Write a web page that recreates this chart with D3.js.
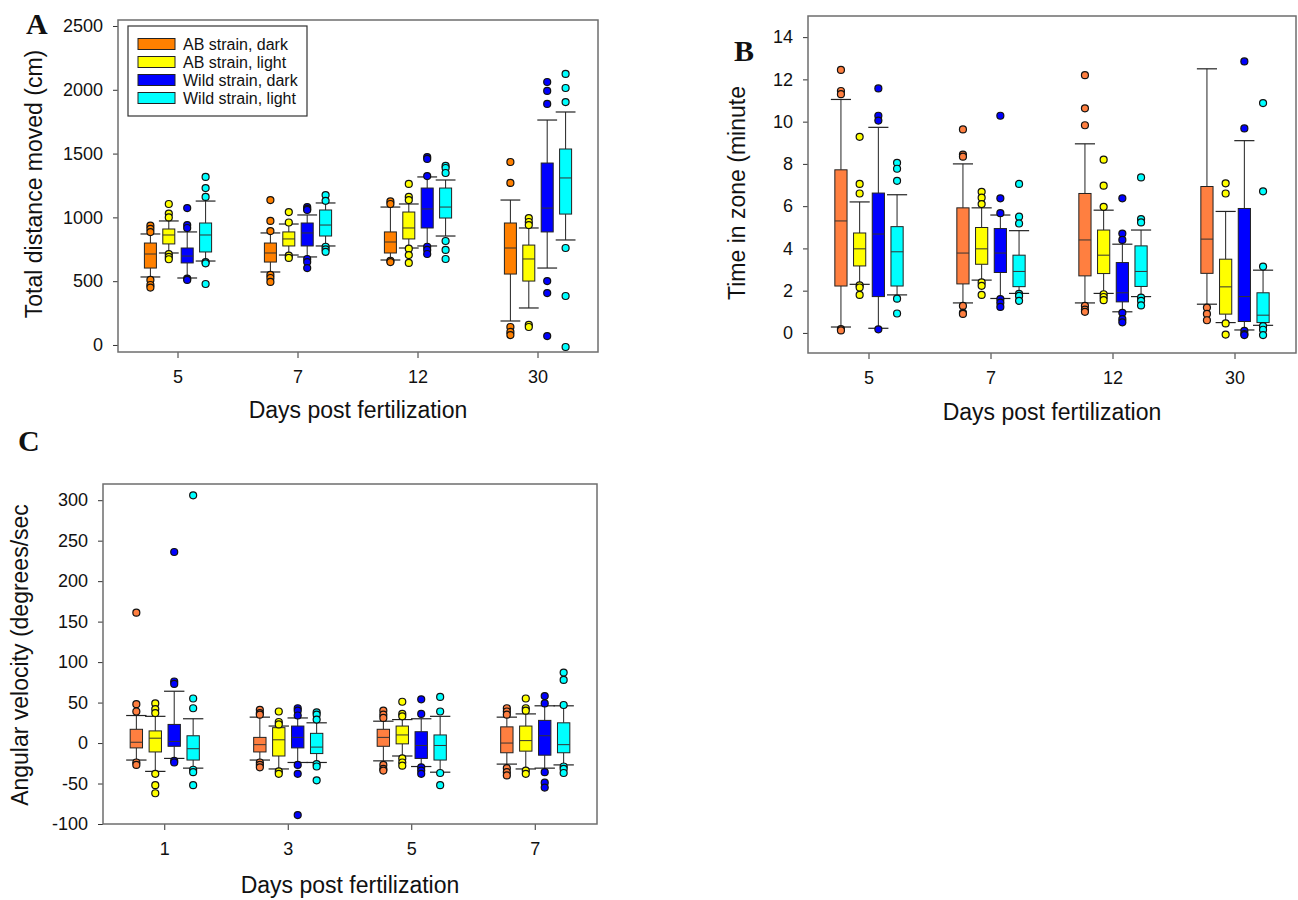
<!DOCTYPE html>
<html lang="en">
<head>
<meta charset="utf-8">
<title>Zebrafish locomotion boxplots</title>
<script src="https://d3js.org/d3.v7.min.js"></script>
<style>
  body { margin: 0; background: #fff; }
  svg text { font-family: "Liberation Sans", Arial, sans-serif; fill: #111; }
  .tick text { font-size: 18px; }
  .axis-title { font-size: 23px; }
  .legend-text { font-size: 16px; }
  .panel-letter { font-family: "Liberation Serif", "Times New Roman", serif !important; font-weight: bold; font-size: 30px; }
</style>
</head>
<body>
<svg id="chart" width="1298" height="900"></svg>
<script>
// groups shown in every panel
const groups = ["AB strain, dark", "AB strain, light", "Wild strain, dark", "Wild strain, light"];
const colorsA = ["#ff8000", "#ffff00", "#0000ff", "#00ffff"];
const colorsBC = ["#ff7f40", "#ffff00", "#0000ff", "#00ffff"];

const daysAB = ["5", "7", "12", "30"];
const daysC = ["1", "3", "5", "7"];

const ticksA = [0, 500, 1000, 1500, 2000, 2500];
const ticksB = [0, 2, 4, 6, 8, 10, 12, 14];
const ticksC = [-100, -50, 0, 50, 100, 150, 200, 250, 300];

// [lower whisker, q1, median, q3, upper whisker] per day, per group
const distanceBoxes = [
  [[533, 603, 713, 799, 870], [721, 792, 862, 909, 972], [525, 643, 697, 760, 886], [658, 729, 862, 956, 1128]],
  [[572, 650, 721, 799, 878], [705, 776, 831, 886, 948], [690, 776, 878, 956, 1019], [776, 854, 940, 1058, 1113]],
  [[666, 721, 807, 886, 1081], [760, 831, 917, 1042, 1105], [776, 917, 1066, 1230, 1317], [854, 995, 1081, 1230, 1293]],
  [[188, 556, 760, 956, 1136], [290, 501, 674, 783, 917], [603, 886, 1073, 1426, 1763], [823, 1026, 1309, 1536, 1826]]
];
const distanceOutliers = [
  [[935, 910, 885, 510, 470, 450], [1105, 1030, 1000, 712, 690, 672], [1073, 940, 917, 520, 510], [1317, 1230, 1160, 650, 640, 478]],
  [[1136, 972, 893, 549, 525, 494], [1042, 960, 700, 682], [1081, 1066, 1058, 674, 650, 603], [1175, 1130, 770, 750, 730]],
  [[1125, 1105, 660, 650], [1262, 1160, 1136, 755, 705, 643], [1473, 1458, 1324, 770, 745, 713], [1403, 1387, 1348, 815, 745, 674]],
  [[1434, 1270, 141, 102, 78], [995, 964, 940, 157, 141], [2061, 1991, 1889, 501, 407, 70], [2124, 2014, 1904, 760, 384, -16]]
];

const zoneBoxes = [
  [[0.28, 2.22, 5.3, 7.72, 11.05], [2.3, 3.17, 3.98, 4.73, 6.2], [0.22, 1.72, 4.68, 6.62, 9.73], [1.8, 2.22, 3.84, 5.03, 6.54]],
  [[1.42, 2.32, 3.78, 5.92, 8.0], [2.5, 3.25, 3.98, 4.99, 5.92], [1.63, 2.86, 3.78, 4.94, 5.58], [1.87, 2.19, 2.91, 3.68, 4.84]],
  [[1.42, 2.7, 4.4, 6.6, 8.95], [1.87, 2.81, 3.68, 4.87, 5.81], [1.0, 1.47, 1.9, 3.33, 4.2], [1.72, 2.2, 2.91, 4.12, 4.87]],
  [[1.36, 2.82, 4.44, 6.93, 12.5], [0.49, 0.89, 2.18, 3.49, 5.75], [0.14, 0.54, 1.72, 5.89, 9.1], [0.36, 0.49, 0.84, 1.9, 2.97]]
];
const zoneOutliers = [
  [[12.45, 11.45, 11.3, 0.18, 0.12], [9.28, 7.05, 6.6, 2.25, 2.15, 1.8], [11.57, 10.28, 10.05, 0.17], [8.05, 7.77, 7.2, 1.62, 0.92]],
  [[9.63, 8.44, 8.34, 1.28, 0.95, 0.9], [6.68, 6.4, 6.1, 2.39, 2.23, 1.8], [10.28, 6.37, 5.67, 1.6, 1.43, 1.23], [7.05, 5.5, 5.18, 1.85, 1.75, 1.52]],
  [[12.2, 10.63, 9.83, 1.28, 1.1, 1.0], [8.2, 6.97, 5.97, 1.83, 1.7, 1.55], [6.37, 4.7, 4.4, 0.95, 0.65, 0.5], [7.36, 5.39, 5.23, 1.67, 1.52, 1.3]],
  [[1.2, 0.9, 0.6], [7.08, 6.6, 0.45, -0.08], [12.85, 9.68, 0.1, -0.05, -0.1], [10.88, 6.7, 3.14, 0.32, 0.15, -0.1]]
];

const angularBoxes = [
  [[-21, -6, 1, 17, 34], [-35, -11, 6, 15, 33], [-19, -4, 2, 23, 64], [-31, -21, -7, 9, 30]],
  [[-21, -11, -2, 7, 32], [-32, -16, 4, 19, 21], [-24, -6, 7, 21, 31], [-24, -13, -5, 12, 25]],
  [[-22, -4, 7, 17, 27], [-16, -1, 10, 21, 29], [-29, -19, -3, 14, 30], [-36, -21, -3, 10, 33]],
  [[-26, -12, 0, 20, 32], [-32, -10, 3, 21, 36], [-31, -15, 9, 28, 46], [-27, -12, -2, 25, 46]]
];
const angularOutliers = [
  [[161, 48, 39, -24, -27], [49, 42, 37, -38, -52, -62], [236, 76, 73, -22, -24], [306, 55, 43, -33, -36, -52]],
  [[41, 37, 35, -24, -27, -30], [39, 26, 23, -35, -38], [43, 40, 34, -27, -38, -89], [38, 35, 29, -26, -29, -46]],
  [[40, 35, 31, -27, -32, -34], [51, 36, 33, -19, -24, -28], [54, 36, -30, -34, -38], [57, 39, -37, -52]],
  [[43, 39, 35, -31, -36, -40], [55, 43, 40, -34, -38], [58, 49, -36, -49, -55], [87, 78, 47, -29, -32, -37]]
];

const svg = d3.select("#chart");

function drawPanel(cfg) {
  const g = svg.append("g");
  const x = d3.scaleBand().domain(cfg.days).range([cfg.left, cfg.right]);
  const bw = x.bandwidth();
  const inner = d3.scalePoint().domain(d3.range(groups.length)).range([-0.23 * bw, 0.23 * bw]);
  const y = d3.scaleLinear().domain(cfg.yDomain).range([cfg.bottom, cfg.top]);
  const boxW = 0.1 * bw, capW = 0.165 * bw;

  // axes (plain hyphen minus, no thousands separator)
  const yAxis = g.append("g")
    .attr("transform", `translate(${cfg.left},0)`)
    .call(d3.axisLeft(y).tickValues(cfg.yTicks).tickFormat(d => String(d))
      .tickSize(5).tickPadding(10).tickSizeOuter(0));
  const xAxis = g.append("g")
    .attr("transform", `translate(0,${cfg.bottom})`)
    .call(d3.axisBottom(x).tickSize(6).tickPadding(12).tickSizeOuter(0));
  [yAxis, xAxis].forEach(a => {
    a.select(".domain").remove();
    a.selectAll(".tick line").attr("stroke", "#333");
    a.selectAll(".tick text").attr("fill", "#111").style("font-size", "18px")
      .style("font-family", '"Liberation Sans", Arial, sans-serif');
  });

  g.append("rect")
    .attr("x", cfg.left).attr("y", cfg.top)
    .attr("width", cfg.right - cfg.left).attr("height", cfg.bottom - cfg.top)
    .attr("fill", "none").attr("stroke", "#6e6e6e").attr("stroke-width", 1.5);

  cfg.days.forEach((day, di) => {
    groups.forEach((grp, gi) => {
      const [lo, q1, med, q3, hi] = cfg.boxes[di][gi];
      const cx = x(day) + bw / 2 + inner(gi);
      const col = cfg.colors[gi];
      // whiskers
      g.append("line").attr("x1", cx).attr("x2", cx).attr("y1", y(lo)).attr("y2", y(q1))
        .attr("stroke", "#222").attr("stroke-width", 1);
      g.append("line").attr("x1", cx).attr("x2", cx).attr("y1", y(q3)).attr("y2", y(hi))
        .attr("stroke", "#222").attr("stroke-width", 1);
      [lo, hi].forEach(v => {
        g.append("line").attr("x1", cx - capW / 2).attr("x2", cx + capW / 2)
          .attr("y1", y(v)).attr("y2", y(v)).attr("stroke", "#222").attr("stroke-width", 1.2);
      });
      // box + median
      g.append("rect").attr("x", cx - boxW / 2).attr("y", y(q3))
        .attr("width", boxW).attr("height", y(q1) - y(q3))
        .attr("fill", col).attr("stroke", "#222").attr("stroke-width", 1);
      g.append("line").attr("x1", cx - boxW / 2).attr("x2", cx + boxW / 2)
        .attr("y1", y(med)).attr("y2", y(med)).attr("stroke", "#333").attr("stroke-width", 1);
      // outliers
      g.selectAll(null).data(cfg.outliers[di][gi]).join("circle")
        .attr("cx", cx).attr("cy", d => y(d)).attr("r", 3.5)
        .attr("fill", col).attr("stroke", "#111").attr("stroke-width", 1.2);
    });
  });

  g.append("text").attr("class", "axis-title")
    .attr("x", (cfg.left + cfg.right) / 2).attr("y", cfg.xTitleY)
    .attr("text-anchor", "middle").text("Days post fertilization");
  g.append("text").attr("class", "axis-title")
    .attr("transform", `translate(${cfg.yTitleX},${cfg.yTitleY}) rotate(-90)`)
    .attr("text-anchor", "middle").text(cfg.yTitle);
  g.append("text").attr("class", "panel-letter")
    .attr("x", cfg.letterX).attr("y", cfg.letterY).text(cfg.letter);
  return { x, y };
}

drawPanel({
  left: 118, right: 598, top: 20, bottom: 352,
  days: daysAB, yDomain: [-55, 2547], yTicks: ticksA,
  boxes: distanceBoxes, outliers: distanceOutliers, colors: colorsA,
  yTitle: "Total distance moved (cm)", yTitleX: 42, yTitleY: 184, xTitleY: 418,
  letter: "A", letterX: 26, letterY: 34
});

drawPanel({
  left: 808, right: 1296, top: 16, bottom: 353,
  days: daysAB, yDomain: [-0.95, 15], yTicks: ticksB,
  boxes: zoneBoxes, outliers: zoneOutliers, colors: colorsBC,
  yTitle: "Time in zone (minute", yTitleX: 745, yTitleY: 193, xTitleY: 420,
  letter: "B", letterX: 734, letterY: 61
});

drawPanel({
  left: 103, right: 597, top: 484, bottom: 824,
  days: daysC, yDomain: [-100, 320], yTicks: ticksC,
  boxes: angularBoxes, outliers: angularOutliers, colors: colorsBC,
  yTitle: "Angular velocity (degrees/sec", yTitleX: 28, yTitleY: 655, xTitleY: 893,
  letter: "C", letterX: 18, letterY: 451
});

// legend of panel A
const legend = svg.append("g");
legend.append("rect").attr("x", 128).attr("y", 26).attr("width", 179).attr("height", 90)
  .attr("fill", "#fff").attr("stroke", "#333").attr("stroke-width", 1.2);
groups.forEach((grp, i) => {
  const cy = 44 + i * 18;
  legend.append("rect").attr("x", 138).attr("y", cy - 5.5).attr("width", 37).attr("height", 11)
    .attr("fill", colorsA[i]).attr("stroke", "#222").attr("stroke-width", 1);
  legend.append("text").attr("class", "legend-text").attr("x", 183).attr("y", cy + 6).text(grp);
});
</script>
</body>
</html>
